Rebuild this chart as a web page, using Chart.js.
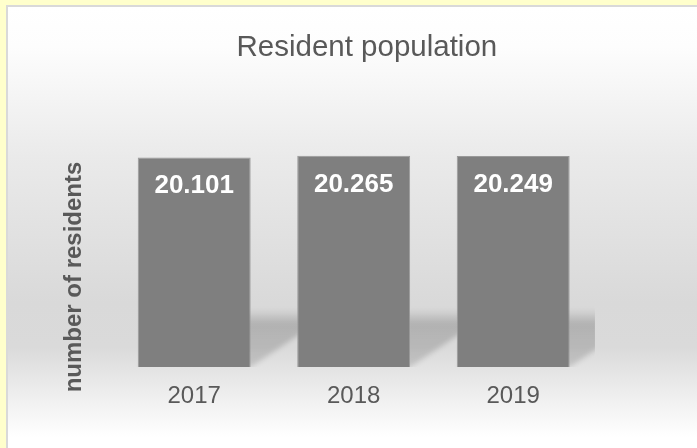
<!DOCTYPE html>
<html>
<head>
<meta charset="utf-8">
<script src="https://cdn.jsdelivr.net/npm/chart.js@4"></script>
<style>
    html, body { margin: 0; padding: 0; }
    body  { width: 697px; height: 448px; overflow: hidden; background: #ffffcc; position: relative; }
    #panel {
        position: absolute; left: 6px; top: 5px; width: 700px; height: 450px;
        border-left: 2px solid #d9d9d9; border-top: 2px solid #d9d9d9;
        background: linear-gradient(to bottom, #ffffff 0px, #fdfdfd 40px, #eaeaea 150px,
                    #d9d9d9 295px, #dadada 340px, #f3f3f3 400px, #ffffff 430px);
    }
    #chart { position: absolute; left: 0; top: 0; }
</style>
</head>
<body>
<div id="panel"></div>
<canvas id="chart" width="697" height="448"></canvas>
<script>
const years      = ['2017', '2018', '2019'];
const residents  = [20101, 20265, 20249];
const chartTitle = 'Resident population';
const yAxisLabel = 'number of residents';
const yMax       = 25000;

const TEXT = '#595959';
Chart.defaults.font.family = "'Liberation Sans', Arial, sans-serif";

// 20101 -> "20.101"
function fmtDots(v) {
    return String(v).replace(/\B(?=(\d{3})+(?!\d))/g, '.');
}

function hideAxis(width) {
    return {
        display: true,
        ticks:  { display: false },
        grid:   { display: false, drawTicks: false },
        border: { display: false },
        afterFit: s => { s.width = width; },
    };
}

// soft perspective shadow behind each bar
const barShadow = {
    id: 'barShadow',
    beforeDatasetsDraw(chart) {
        const { ctx, chartArea: a } = chart;
        ctx.save();
        ctx.beginPath();
        ctx.rect(a.left, a.top, a.right - a.left + 2, a.bottom - a.top);
        ctx.clip();
        ctx.filter = 'blur(2.5px)';
        for (const bar of chart.getDatasetMeta(0).data) {
            const { x, base, width } = bar.getProps(['x', 'base', 'width'], true);
            const l = x - width / 2, r = x + width / 2;
            const h = 58, k = 1.5;
            const g = ctx.createLinearGradient(0, base, 0, base - h);
            g.addColorStop(0,   'rgba(0,0,0,0.13)');
            g.addColorStop(0.75, 'rgba(0,0,0,0.18)');
            g.addColorStop(1,   'rgba(0,0,0,0)');
            ctx.fillStyle = g;
            ctx.beginPath();
            ctx.moveTo(l, base);
            ctx.lineTo(r, base);
            ctx.lineTo(r + k * h, base - h);
            ctx.lineTo(l + k * h, base - h);
            ctx.closePath();
            ctx.fill();
        }
        ctx.restore();
    },
};

// value labels inside the top of the bars
const barValues = {
    id: 'barValues',
    afterDatasetsDraw(chart) {
        const { ctx } = chart;
        const vals = chart.data.datasets[0].data;
        ctx.save();
        ctx.fillStyle = '#ffffff';
        ctx.font = "bold 26px 'Liberation Sans', Arial, sans-serif";
        ctx.textAlign = 'center';
        ctx.textBaseline = 'middle';
        chart.getDatasetMeta(0).data.forEach((bar, i) => {
            ctx.fillText(fmtDots(vals[i]), bar.x, bar.y + 28.7);
        });
        ctx.restore();
    },
};

// rotated y axis label
const yLabel = {
    id: 'yLabel',
    afterDraw(chart) {
        const { ctx } = chart;
        ctx.save();
        ctx.translate(74.6, 277);
        ctx.rotate(-Math.PI / 2);
        ctx.fillStyle = TEXT;
        ctx.font = "bold 24px 'Liberation Sans', Arial, sans-serif";
        ctx.textAlign = 'center';
        ctx.textBaseline = 'middle';
        ctx.fillText(yAxisLabel, 0, 0);
        ctx.restore();
    },
};

new Chart(document.getElementById('chart'), {
    type: 'bar',
    data: {
        labels: years,
        datasets: [{
            label: yAxisLabel,
            data: residents,
            backgroundColor: '#7f7f7f',
            borderColor: '#999999',
            borderWidth: 1,
            categoryPercentage: 1,
            barPercentage: 0.708,
        }],
    },
    plugins: [barShadow, barValues, yLabel],
    options: {
        responsive: false,
        animation: false,
        layout: { padding: { left: 36.7, right: 0, top: 0, bottom: 22.2 } },
        plugins: {
            legend:  { display: false },
            tooltip: { enabled: false },
            title: {
                display: true,
                text: chartTitle,
                color: TEXT,
                font: { size: 29.5, weight: 'normal' },
                padding: { top: 29.8, bottom: 41.3 },
            },
        },
        scales: {
            x: {
                offset: true,
                grid:   { display: false, drawTicks: false },
                border: { display: false },
                ticks:  { color: TEXT, font: { size: 24 }, padding: 15 },
            },
            y:  { position: 'left',  min: 0, max: yMax, ...hideAxis(77.75) },
            y2: { position: 'right', min: 0, max: 1,    ...hideAxis(104.05) },
        },
    },
});
</script>
</body>
</html>
